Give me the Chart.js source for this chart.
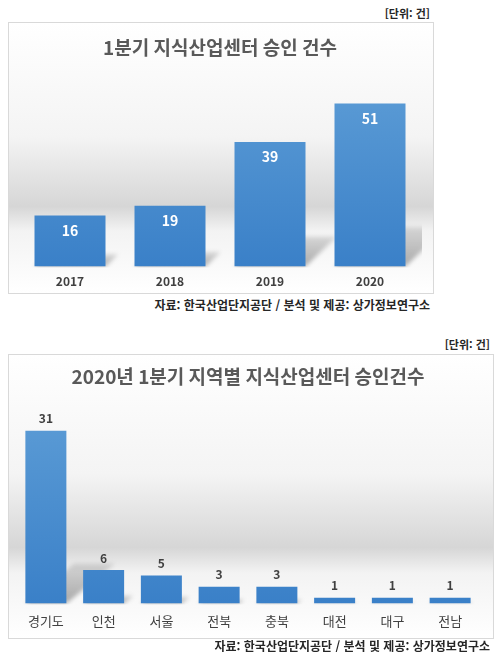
<!DOCTYPE html>
<html lang="ko">
<head>
<meta charset="utf-8">
<script src="https://cdn.jsdelivr.net/npm/chart.js@4.4.1/dist/chart.umd.min.js"></script>
<style>
  body { margin: 0; background: #fff; width: 502px; height: 660px; position: relative;
         font-family: "Noto Sans CJK KR", "Noto Sans", sans-serif; color: #262626; }
  .box { position: absolute; border: 1px solid #d9d9d9;
         background: linear-gradient(to bottom, #fff 0%, #f4f4f4 42%, #d6d6d6 68%, #f3f3f3 77%, #fff 100%); }
  .box canvas { display: block; }
  .note { position: absolute; font-size: 11px; font-weight: bold; white-space: nowrap; text-align: right; }
  .src { font-size: 12px; }
</style>
</head>
<body>
<div class="note" style="right:72px; top:5px;">[단위: 건]</div>
<div class="box" id="box1" style="left:8px; top:22px; width:424px; height:270px;"><canvas id="chart1"></canvas></div>
<div class="note src" style="right:72px; top:296px;">자료: 한국산업단지공단 / 분석 및 제공: 상가정보연구소</div>

<div class="note" style="right:12px; top:336px;">[단위: 건]</div>
<div class="box" id="box2" style="left:8px; top:354px; width:484px; height:283px;"><canvas id="chart2"></canvas></div>
<div class="note src" style="right:12px; top:637px;">자료: 한국산업단지공단 / 분석 및 제공: 상가정보연구소</div>

<script>
// data
const yearLabels = ['2017', '2018', '2019', '2020'];
const yearCounts = [16, 19, 39, 51];

const regionLabels = ['경기도', '인천', '서울', '전북', '충북', '대전', '대구', '전남'];
const regionCounts = [31, 6, 5, 3, 3, 1, 1, 1];

const FONT = '"Noto Sans CJK KR", "Noto Sans", sans-serif';

// blue bar gradient, lighter at top
function barFill(context) {
    const area = context.chart.chartArea;
    if (!area) return '#4a8fd2';
    const g = context.chart.ctx.createLinearGradient(0, area.top, 0, area.bottom);
    g.addColorStop(0, '#5d9dd6');
    g.addColorStop(1, '#3a80c8');
    return g;
}

// soft perspective shadow behind each bar (like the excel 3d effect)
const barShadow = {
    id: 'barShadow',
    beforeDatasetsDraw(chart, args, opts) {
        const ctx = chart.ctx;
        const area = chart.chartArea;
        ctx.save();
        ctx.beginPath();
        ctx.rect(area.left, 0, area.right - area.left + 2, area.bottom + 1);
        ctx.clip();
        ctx.filter = 'blur(2px)';
        chart.getDatasetMeta(0).data.forEach(bar => {
            const h = bar.base - bar.y;
            const x0 = bar.x - bar.width / 2, x1 = bar.x + bar.width / 2;
            const dx = h * opts.dx, rise = h * opts.rise;
            const g = ctx.createLinearGradient(0, bar.base, 0, bar.base - rise);
            g.addColorStop(0, 'rgba(0,0,0,0.32)');
            g.addColorStop(1, 'rgba(0,0,0,0.12)');
            ctx.fillStyle = g;
            ctx.beginPath();
            ctx.moveTo(x0, bar.base);
            ctx.lineTo(x1, bar.base);
            ctx.lineTo(x1 + dx, bar.base - rise);
            ctx.lineTo(x0 + dx, bar.base - rise);
            ctx.closePath();
            ctx.fill();
        });
        ctx.restore();
    }
};

// draw the value on each bar
const valueLabels = {
    id: 'valueLabels',
    afterDatasetsDraw(chart, args, opts) {
        const ctx = chart.ctx;
        const meta = chart.getDatasetMeta(0);
        const data = chart.data.datasets[0].data;
        ctx.save();
        ctx.font = 'bold ' + opts.size + 'px ' + FONT;
        ctx.fillStyle = opts.color;
        ctx.textAlign = 'center';
        ctx.textBaseline = 'middle';
        meta.data.forEach((bar, i) => {
            ctx.fillText(String(data[i]), bar.x, bar.y + opts.offset);
        });
        ctx.restore();
    }
};

function makeChart(id, labels, values, cfg) {
    const canvas = document.getElementById(id);
    const box = canvas.parentNode;
    canvas.width = box.clientWidth;
    canvas.height = box.clientHeight;
    return new Chart(canvas.getContext('2d'), {
        type: 'bar',
        data: {
            labels: labels,
            datasets: [{
                data: values,
                backgroundColor: barFill,
                borderWidth: 0,
                barPercentage: 0.71,
                categoryPercentage: 1.0
            }]
        },
        options: {
            responsive: false,
            animation: false,
            layout: { padding: cfg.padding },
            plugins: {
                legend: { display: false },
                tooltip: { enabled: false },
                title: {
                    display: true,
                    text: cfg.title,
                    color: '#595959',
                    font: { family: FONT, size: 19, weight: 'bold' },
                    padding: cfg.titlePad
                },
                barShadow: cfg.shadow,
                valueLabels: cfg.valueLabels
            },
            scales: {
                x: {
                    grid: { display: false, drawTicks: false },
                    border: { display: false },
                    ticks: { color: '#404040', padding: cfg.tickPad,
                             font: { family: FONT, size: cfg.tickSize, weight: cfg.tickWeight } }
                },
                y: { display: false, min: 0, max: cfg.yMax }
            }
        },
        plugins: [barShadow, valueLabels]
    });
}

makeChart('chart1', yearLabels, yearCounts, {
    title: '1분기 지식산업센터 승인 건수',
    titlePad: { top: 13, bottom: 16 },
    padding: { left: 11, right: 13, top: 0, bottom: -4 },
    tickPad: 8, tickSize: 12, tickWeight: 'bold',
    yMax: 60,
    shadow: { dx: 0.25, rise: 0.24 },
    valueLabels: { size: 14, color: '#ffffff', offset: 15 }
});

makeChart('chart2', regionLabels, regionCounts, {
    title: '2020년 1분기 지역별 지식산업센터 승인건수',
    titlePad: { top: 10, bottom: 15 },
    padding: { left: 8, right: 14, top: 0, bottom: -1 },
    tickPad: 10, tickSize: 13, tickWeight: 'normal',
    yMax: 36,
    shadow: { dx: 0.28, rise: 0.23 },
    valueLabels: { size: 12, color: '#404040', offset: -12 }
});
</script>
</body>
</html>
